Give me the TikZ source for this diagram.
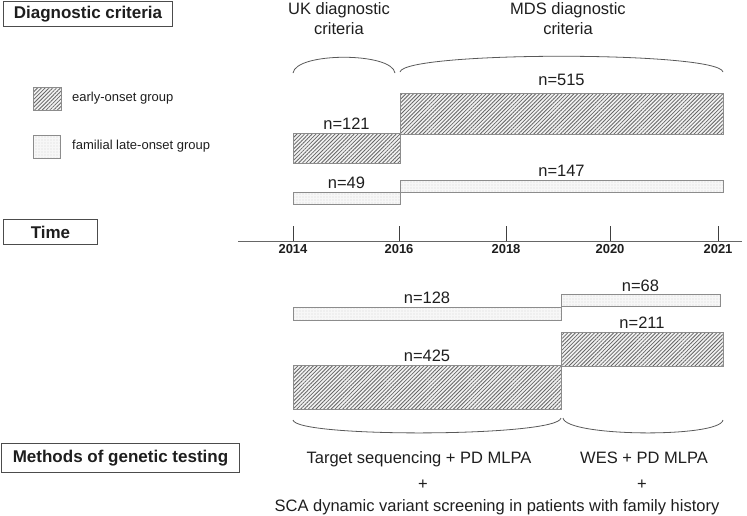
\documentclass[tikz,border=0pt]{standalone}
\usepackage{fontspec}
\setmainfont{Liberation Sans}
\usetikzlibrary{positioning,patterns.meta}
\definecolor{BarEdge}{HTML}{8C8C8C}
\definecolor{HatchGray}{HTML}{666666}
\definecolor{DotGray}{HTML}{9A9A9A}
\definecolor{TextDark}{HTML}{1E1E1E}

\begin{document}
\begin{tikzpicture}[x=1pt,y=-1pt,
  every node/.style={text=TextDark},
  titlebox/.style={draw=black!70,line width=1pt,anchor=north west,inner sep=0pt,font=\fontsize{17}{20}\selectfont\bfseries},
  bar/.style={draw=BarEdge,line width=1pt,anchor=north west,inner sep=0pt,outer sep=0pt},
  hatchbar/.style={bar,preaction={fill=gray!10},pattern={Lines[angle=45,distance=2.7pt,line width=0.8pt]},pattern color=HatchGray},
  dotbar/.style={bar,preaction={fill=gray!6},pattern={Dots[distance=3pt,radius=0.4pt]},pattern color=DotGray},
  count/.style={font=\fontsize{16.5}{20}\selectfont,inner sep=1pt},
  yearlbl/.style={font=\fontsize{13}{15}\selectfont\bfseries},
  legendlbl/.style={font=\fontsize{13}{15}\selectfont,inner sep=0pt},
  brace/.style={draw=black!65,line width=0.8pt}]
\useasboundingbox (0,0) rectangle (747,515);

% title boxes
\node[titlebox,minimum width=169pt,minimum height=25pt] (diag) at (3,1) {Diagnostic criteria};
\node[titlebox,minimum width=94pt,minimum height=25pt] (time) at (3,219) {Time};
\node[titlebox,minimum width=238pt,minimum height=29pt] (methods) at (1,443) {Methods of genetic testing};

% legend
\node[hatchbar,minimum width=28pt,minimum height=23pt] (leg-early) at (33,87) {};
\node[legendlbl,right=11pt of leg-early] (leg-early-txt) {early-onset group};
\node[dotbar,minimum width=27pt,minimum height=23pt] (leg-late) at (33,135) {};
\node[legendlbl,right=12pt of leg-late] (leg-late-txt) {familial late-onset group};

% diagnostic criteria
\node[count,align=center,inner sep=0pt] (uk-head) at (339,19) {UK diagnostic\\criteria};
\node[count,align=center,inner sep=0pt] (mds-head) at (568,19) {MDS diagnostic\\criteria};
\coordinate (uk-l) at (293,73);
\coordinate (uk-r) at (395,73);
\coordinate (mds-l) at (400,72);
\coordinate (mds-r) at (723,72);
\draw[brace] (uk-l) .. controls +(3,-21) and +(-3,-21) .. (uk-r);
\draw[brace] (mds-l) .. controls +(4,-21) and +(-4,-21) .. (mds-r);

\node[hatchbar,minimum width=107pt,minimum height=30pt] (early-uk) at (293,133) {};
\node[hatchbar,minimum width=323pt,minimum height=41pt] (early-mds) at (400,93) {};
\node[dotbar,minimum width=107pt,minimum height=12pt] (late-uk) at (293,192) {};
\node[dotbar,minimum width=323pt,minimum height=12pt] (late-mds) at (400,180) {};
\node[count,above=2pt of early-uk] (n121) {n=121};
\node[count,above=6pt of early-mds] (n515) {n=515};
\node[count,above=2pt of late-uk] (n49) {n=49};
\node[count,above=2pt of late-mds] (n147) {n=147};

% time axis
\coordinate (axis-l) at (238,241);
\coordinate (axis-r) at (742,241);
\draw[draw=black!60,line width=0.8pt] (axis-l) -- (axis-r);
\foreach \x/\yr in {293/2014,399/2016,506/2018,610/2020,718/2021}{
  \draw[black!75,line width=0.8pt] (\x,226) -- (\x,241);
  \node[yearlbl] (yr\yr) at (\x,249) {\yr};
}

% genetic testing
\node[dotbar,minimum width=268pt,minimum height=13pt] (late-ts) at (293,307) {};
\node[dotbar,minimum width=159pt,minimum height=12pt] (late-wes) at (561,294) {};
\node[hatchbar,minimum width=162pt,minimum height=34pt] (early-wes) at (561,332) {};
\node[hatchbar,minimum width=268pt,minimum height=44pt] (early-ts) at (293,365) {};
\node[count,above=2pt of late-ts] (n128) {n=128};
\node[count,above=1pt of late-wes] (n68) {n=68};
\node[count,above=2pt of early-wes] (n211) {n=211};
\node[count,above=2pt of early-ts] (n425) {n=425};

\coordinate (ts-l) at (293,420);
\coordinate (ts-r) at (561,418);
\coordinate (wes-l) at (563,418);
\coordinate (wes-r) at (723,420);
\draw[brace] (ts-l) .. controls +(3,18) and +(-3,19) .. (ts-r);
\draw[brace] (wes-l) .. controls +(3,19) and +(-3,18) .. (wes-r);

\node[count,anchor=base] (ts-txt) at (419,463) {Target sequencing + PD MLPA};
\node[count,anchor=base] (wes-txt) at (644,463) {WES + PD MLPA};
\node[count,anchor=base] (ts-plus) at (423,489) {+};
\node[count,anchor=base] (wes-plus) at (642,489) {+};
\node[count,anchor=base] (sca-txt) at (497,511) {SCA dynamic variant screening in patients with family history};
\end{tikzpicture}
\end{document}
